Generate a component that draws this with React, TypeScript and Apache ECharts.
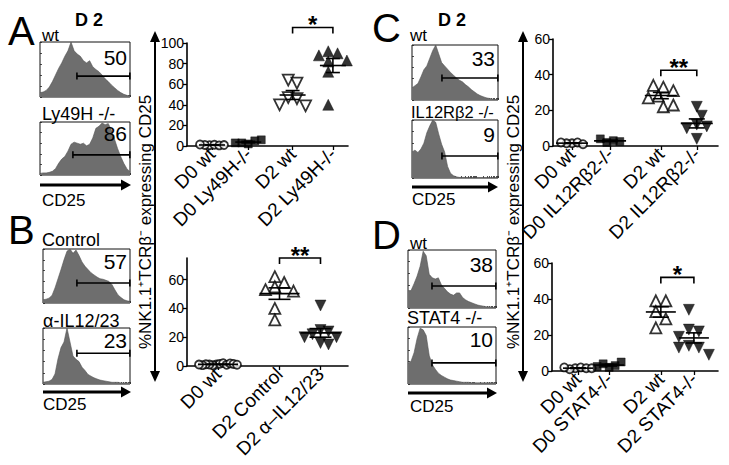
import React, { useEffect, useRef } from 'react';
import * as echarts from 'echarts';

const FONT = '"Liberation Sans", Arial, Helvetica, sans-serif';

// ---------- Scatter data ----------
const A_CATEGORIES = ['D0 wt', 'D0 Ly49H-/-', 'D2 wt', 'D2 Ly49H-/-'];
const A_D0_WT = [0.8, 1.2, 1.0, 0.6, 1.4, 0.9];
const A_D0_KO = [2, 5, 3, 6, 3];
const A_D2_WT = [64, 61, 47, 46, 40, 39];
const A_D2_KO = [92, 90, 88, 83, 82, 72, 40];
const A_TICKS = [0, 20, 40, 60, 80, 100];
const A_SIG = '*';

const B_CATEGORIES = ['D0 wt', 'D2 Control', 'D2 α\u2013IL12/23'];
const B_D0_WT = [1, 1.5, 0.5, 2, 1, 0.8, 1.2, 1.8, 0.6, 1.4, 1, 0.9];
const B_D2_CTRL = [62, 58, 55, 53, 52, 40, 32];
const B_D2_AB = [42, 25, 24, 22, 20, 20, 16, 15];
const B_TICKS = [0, 20, 40, 60];
const B_SIG = '**';

const C_CATEGORIES = ['D0 wt', 'D0 IL12Rβ2-/-', 'D2 wt', 'D2 IL12Rβ2-/-'];
const C_D0_WT = [1.5, 2, 1.5, 1, 2];
const C_D0_KO = [2, 3, 4, 2.5];
const C_D2_WT = [33, 31, 34, 28, 27, 22, 23];
const C_D2_KO = [22, 17, 12, 11, 10, 4];
const C_TICKS = [0, 20, 40, 60];
const C_SIG = '**';

const D_CATEGORIES = ['D0 wt', 'D0 STAT4-/-', 'D2 wt', 'D2 STAT4-/-'];
const D_D0_WT = [1.5, 2, 1, 1.5, 2, 1.5];
const D_D0_KO = [2, 3, 4, 5, 2.5];
const D_D2_WT = [39, 39, 33, 29, 24];
const D_D2_KO = [34, 23, 22, 19, 14, 13, 13, 9];
const D_TICKS = [0, 20, 40, 60];
const D_SIG = '*';

// ---------- Histogram data (relative counts per CD25 bin) ----------
const HIST_A_WT = [8, 9, 12, 18, 28, 40, 52, 62, 74, 84, 100, 84, 78, 74, 66, 62, 66, 55, 50, 46, 40, 33, 28, 22, 17, 12, 8, 5, 3, 2];
const HIST_A_KO = [3, 4, 4, 5, 7, 12, 22, 30, 35, 45, 58, 62, 60, 58, 60, 55, 58, 70, 88, 92, 98, 95, 97, 85, 68, 50, 35, 22, 12, 6];
const HIST_B_CTRL = [6, 7, 9, 14, 28, 45, 62, 80, 96, 100, 92, 98, 88, 76, 68, 62, 56, 52, 48, 45, 44, 42, 40, 34, 24, 15, 10, 6, 4, 3];
const HIST_B_AB = [3, 4, 5, 8, 18, 45, 65, 75, 100, 75, 50, 44, 40, 30, 24, 17, 14, 11, 9, 7, 6, 5, 4, 3, 3, 3, 2, 2, 2, 2];
const HIST_C_WT = [22, 26, 30, 42, 55, 62, 76, 90, 100, 84, 68, 62, 56, 50, 45, 40, 36, 33, 28, 24, 19, 15, 11, 8, 6, 4, 3, 2, 1, 1];
const HIST_C_KO = [45, 48, 44, 50, 60, 78, 90, 100, 96, 76, 58, 45, 20, 8, 4, 2, 1, 1, 1, 0.5, 0.5, 0.5, 0.5, 0.5, 0.5, 0.5, 0.5, 0.5, 0.5, 0.5];
const HIST_D_WT = [30, 30, 42, 55, 72, 98, 90, 58, 52, 50, 52, 40, 34, 28, 24, 22, 26, 26, 18, 14, 11, 9, 7, 5, 4, 3, 2, 2, 1, 1];
const HIST_D_KO = [36, 40, 55, 80, 98, 95, 85, 50, 34, 26, 19, 15, 12, 9, 7, 6, 5, 4, 3, 3, 3, 2, 2, 2, 2, 2, 2, 2, 2, 2];

// gate [start bin, level], percent inside gate
const GATE_A_WT = [11.9, 38];
const GATE_A_KO = [10.6, 38];
const GATE_B_CTRL = [11.3, 37];
const GATE_B_AB = [11.3, 55];
const GATE_C_WT = [10.1, 40];
const GATE_C_KO = [10.1, 38];
const GATE_D_WT = [7.9, 38];
const GATE_D_KO = [7.9, 37];
const PCT = ['50', '86', '57', '23', '33', '9', '38', '10'];

// ---------- helpers ----------
function swarm(values, pxPerUnit, d, cap) {
  const placed = [];
  const out = [];
  for (const v of values) {
    const y = v * pxPerUnit;
    let chosen = 0;
    for (let k = 0; k < 80; k++) {
      const cand = k === 0 ? 0 : (k % 2 ? 1 : -1) * Math.ceil(k / 2) * d * 0.5;
      if (placed.every((p) => Math.hypot(p.x - cand, p.y - y) >= d)) {
        chosen = cand;
        break;
      }
    }
    placed.push({ x: chosen, y });
    out.push(chosen);
  }
  const mid = (Math.max(...out) + Math.min(...out)) / 2;
  let res = out.map((x) => x - mid);
  const mx = Math.max(...res.map(Math.abs));
  if (mx > cap) res = res.map((x) => (x * cap) / mx);
  return res;
}
function mean(a) {
  return a.reduce((s, v) => s + v, 0) / a.length;
}
function sem(a) {
  const m = mean(a);
  const sd = Math.sqrt(a.reduce((s, v) => s + (v - m) * (v - m), 0) / (a.length - 1));
  return sd / Math.sqrt(a.length);
}

const OPEN_CIRCLE = { symbol: 'circle', size: 8, filled: false, rot: 0, d: 5.5 };
const SQUARE = { symbol: 'rect', size: 8, filled: true, rot: 0, d: 6.5 };
const UP_OPEN = { symbol: 'triangle', size: 11, filled: false, rot: 0, d: 10 };
const UP_FILLED = { symbol: 'triangle', size: 11, filled: true, rot: 0, d: 10 };
const DOWN_OPEN = { symbol: 'triangle', size: 11, filled: false, rot: 180, d: 10 };
const DOWN_FILLED = { symbol: 'triangle', size: 11, filled: true, rot: 180, d: 10 };

const SCATTER_PANELS = [
  {
    layout: { left: 187, top: 43, width: 161, height: 103, px0: 212, unit: 40.3, slots: [0, 0.9, 2.0, 3.0], meanHalf: 13, semHalf: 7 },
    cats: A_CATEGORIES, ticks: A_TICKS, yMax: 100,
    groups: [[A_D0_WT, OPEN_CIRCLE, 12], [A_D0_KO, SQUARE, 14], [A_D2_WT, DOWN_OPEN, 13], [A_D2_KO, UP_FILLED, 14]],
    bracket: [2, 3, 115], sig: A_SIG,
  },
  {
    layout: { left: 187, top: 258, width: 161, height: 108, px0: 218, unit: 41, slots: [0, 1.5, 2.5], meanHalf: 20, semHalf: 11 },
    cats: B_CATEGORIES, ticks: B_TICKS, yMax: 75,
    groups: [[B_D0_WT, OPEN_CIRCLE, 19], [B_D2_CTRL, UP_OPEN, 14], [B_D2_AB, DOWN_FILLED, 16]],
    bracket: [1, 2, 75], sig: B_SIG,
  },
  {
    layout: { left: 553, top: 39, width: 165, height: 107, px0: 572, unit: 42.3, slots: [0, 0.9, 2.1, 2.95], meanHalf: 16, semHalf: 8 },
    cats: C_CATEGORIES, ticks: C_TICKS, yMax: 60,
    groups: [[C_D0_WT, OPEN_CIRCLE, 16], [C_D0_KO, SQUARE, 11], [C_D2_WT, UP_OPEN, 14], [C_D2_KO, DOWN_FILLED, 14]],
    bracket: [2, 3, 42.5], sig: C_SIG,
  },
  {
    layout: { left: 552, top: 263, width: 166, height: 108, px0: 578, unit: 38, slots: [0, 0.82, 2.18, 3.05], meanHalf: 15, semHalf: 8 },
    cats: D_CATEGORIES, ticks: D_TICKS, yMax: 60,
    groups: [[D_D0_WT, OPEN_CIRCLE, 15], [D_D0_KO, SQUARE, 12], [D_D2_WT, UP_OPEN, 12], [D_D2_KO, DOWN_FILLED, 16]],
    bracket: [2, 3, 52], sig: D_SIG,
  },
];

const HIST_PANELS = [
  { box: { left: 40, top: 42, width: 90, height: 55 }, data: HIST_A_WT, gate: GATE_A_WT, pct: PCT[0], pctY: 57 },
  { box: { left: 40, top: 122, width: 90, height: 53 }, data: HIST_A_KO, gate: GATE_A_KO, pct: PCT[1], pctY: 133 },
  { box: { left: 43, top: 249, width: 87, height: 54 }, data: HIST_B_CTRL, gate: GATE_B_CTRL, pct: PCT[2], pctY: 261 },
  { box: { left: 43, top: 328, width: 87, height: 56 }, data: HIST_B_AB, gate: GATE_B_AB, pct: PCT[3], pctY: 340 },
  { box: { left: 412, top: 45, width: 86, height: 55 }, data: HIST_C_WT, gate: GATE_C_WT, pct: PCT[4], pctY: 58 },
  { box: { left: 412, top: 120, width: 86, height: 58 }, data: HIST_C_KO, gate: GATE_C_KO, pct: PCT[5], pctY: 134 },
  { box: { left: 408, top: 250, width: 88, height: 58 }, data: HIST_D_WT, gate: GATE_D_WT, pct: PCT[6], pctY: 264 },
  { box: { left: 408, top: 327, width: 88, height: 57 }, data: HIST_D_KO, gate: GATE_D_KO, pct: PCT[7], pctY: 339 },
];

// log-style minor tick positions along the CD25 axis (4 decades over the bin range)
function logTicks(maxBin) {
  const t = [];
  for (let d = 0; d < 4; d++) for (let m = 1; m <= 9; m++) t.push(((d + Math.log10(m)) * maxBin) / 4);
  t.push(maxBin);
  return t;
}

function txt(x, y, text, size, o: any = {}) {
  return {
    type: 'text', x, y, rotation: o.rot || 0, silent: true, z: 10,
    style: {
      text, fill: '#000',
      font: `${o.bold ? 'bold ' : ''}${size}px ${FONT}`,
      textAlign: o.align || 'left', textVerticalAlign: o.va || 'middle',
    },
  };
}
function hArrow(x1, x2, y) {
  return [
    { type: 'line', silent: true, shape: { x1, y1: y, x2: x2 - 5, y2: y }, style: { stroke: '#000', lineWidth: 3 } },
    { type: 'polygon', silent: true, shape: { points: [[x2, y], [x2 - 10, y - 5.5], [x2 - 10, y + 5.5]] }, style: { fill: '#000' } },
  ];
}
function vArrow(x, y1, y2) {
  return [
    { type: 'line', silent: true, shape: { x1: x, y1: y1 + 6, x2: x, y2: y2 - 6 }, style: { stroke: '#000', lineWidth: 2 } },
    { type: 'polygon', silent: true, shape: { points: [[x, y1], [x - 5, y1 + 11], [x + 5, y1 + 11]] }, style: { fill: '#000' } },
    { type: 'polygon', silent: true, shape: { points: [[x, y2], [x - 5, y2 - 11], [x + 5, y2 - 11]] }, style: { fill: '#000' } },
  ];
}

function buildOption() {
  const grid = [];
  const xAxis = [];
  const yAxis = [];
  const series = [];

  SCATTER_PANELS.forEach((p, gi) => {
    const L = p.layout;
    const xMin = -(L.px0 - L.left) / L.unit;
    const xMax = (L.left + L.width - L.px0) / L.unit;
    grid.push({ left: L.left, top: L.top, width: L.width, height: L.height, containLabel: false });
    const axisLine = { show: true, onZero: false, lineStyle: { color: '#000', width: 1.6 } };
    xAxis.push({
      type: 'value', gridIndex: gi, min: xMin, max: xMax,
      axisLine,
      axisTick: { show: true, length: 4, customValues: L.slots, lineStyle: { color: '#000', width: 1.3 } },
      axisLabel: {
        customValues: L.slots, rotate: 45, margin: 5, color: '#000', fontSize: 19, fontFamily: FONT,
        formatter: (v) => {
          let best = 0;
          L.slots.forEach((s, i) => { if (Math.abs(s - v) < Math.abs(L.slots[best] - v)) best = i; });
          return p.cats[best];
        },
      },
      splitLine: { show: false },
    });
    yAxis.push({
      type: 'value', gridIndex: gi, min: 0, max: p.yMax,
      axisLine,
      axisTick: { show: true, length: 4, customValues: p.ticks, lineStyle: { color: '#000', width: 1.3 } },
      axisLabel: { customValues: p.ticks, margin: 3, color: '#000', fontSize: 14, fontFamily: FONT },
      splitLine: { show: false },
    });
    const pxPerUnit = L.height / p.yMax;
    const stats = [];
    p.groups.forEach(([vals, sty, cap], k) => {
      const offs = swarm(vals, pxPerUnit, sty.d, cap);
      series.push({
        type: 'scatter', xAxisIndex: gi, yAxisIndex: gi, silent: true, z: 3,
        symbol: sty.symbol, symbolSize: sty.size, symbolRotate: sty.rot,
        itemStyle: sty.filled
          ? { color: '#000', borderColor: '#000', borderWidth: 0.5 }
          : { color: '#fff', borderColor: '#000', borderWidth: 1.8 },
        data: vals.map((v, i) => [L.slots[k] + offs[i] / L.unit, v]),
      });
      stats.push([L.slots[k], mean(vals), sem(vals)]);
    });
    series.push({
      type: 'custom', xAxisIndex: gi, yAxisIndex: gi, silent: true, z: 5,
      encode: { x: 0, y: 1 },
      data: stats,
      renderItem: (params, api) => {
        const x = api.value(0), m = api.value(1), s = api.value(2);
        const c = api.coord([x, m]);
        const hi = api.coord([x, m + s]);
        const lo = api.coord([x, m - s]);
        const st = { stroke: '#000', lineWidth: 1.6 };
        return {
          type: 'group',
          children: [
            { type: 'line', shape: { x1: c[0] - L.meanHalf, y1: c[1], x2: c[0] + L.meanHalf, y2: c[1] }, style: st },
            { type: 'line', shape: { x1: c[0] - L.semHalf, y1: hi[1], x2: c[0] + L.semHalf, y2: hi[1] }, style: st },
            { type: 'line', shape: { x1: c[0] - L.semHalf, y1: lo[1], x2: c[0] + L.semHalf, y2: lo[1] }, style: st },
            { type: 'line', shape: { x1: c[0], y1: hi[1], x2: c[0], y2: lo[1] }, style: st },
          ],
        };
      },
    });
    const [b1, b2, by] = p.bracket;
    series.push({
      type: 'custom', xAxisIndex: gi, yAxisIndex: gi, silent: true, z: 5,
      encode: { x: 0, y: 2 },
      data: [[L.slots[b1], L.slots[b2], by]],
      renderItem: (params, api) => {
        const a = api.coord([api.value(0), api.value(2)]);
        const b = api.coord([api.value(1), api.value(2)]);
        return {
          type: 'group',
          children: [
            {
              type: 'polyline',
              shape: { points: [[a[0], a[1] + 6], [a[0], a[1]], [b[0], b[1]], [b[0], b[1] + 6]] },
              style: { stroke: '#000', lineWidth: 1.6, fill: 'none' },
            },
            {
              type: 'text',
              style: {
                text: p.sig, x: (a[0] + b[0]) / 2, y: a[1] - 3, fill: '#000',
                font: `bold 24px ${FONT}`, textAlign: 'center', textVerticalAlign: 'middle',
              },
            },
          ],
        };
      },
    });
  });

  HIST_PANELS.forEach((h, j) => {
    const gi = SCATTER_PANELS.length + j;
    const maxBin = h.data.length - 1;
    grid.push({ ...h.box, show: true, borderColor: '#111', borderWidth: 1, backgroundColor: 'transparent' });
    xAxis.push({
      type: 'value', gridIndex: gi, min: 0, max: maxBin,
      axisLine: { show: false }, axisLabel: { show: false }, splitLine: { show: false },
      axisTick: { show: true, inside: true, length: 2, customValues: logTicks(maxBin), lineStyle: { color: '#222', width: 0.8 } },
    });
    yAxis.push({
      type: 'value', gridIndex: gi, min: 0, max: 100,
      axisLine: { show: false }, axisLabel: { show: false }, splitLine: { show: false },
      axisTick: { show: true, inside: true, length: 2, customValues: [0, 20, 40, 60, 80, 100], lineStyle: { color: '#222', width: 0.8 } },
    });
    series.push({
      type: 'line', xAxisIndex: gi, yAxisIndex: gi, silent: true, symbol: 'none', z: 2,
      lineStyle: { color: '#555', width: 0.6 },
      areaStyle: { color: '#6e6e6e', opacity: 1 },
      data: h.data.map((v, i) => [i, v]),
    });
    series.push({
      type: 'line', xAxisIndex: gi, yAxisIndex: gi, silent: true, z: 4,
      symbol: 'rect', symbolSize: [1.6, 7], itemStyle: { color: '#000' },
      lineStyle: { color: '#000', width: 1.6 },
      data: [[h.gate[0], h.gate[1]], [maxBin - 0.05, h.gate[1]]],
    });
  });

  const g = [];
  // panel letters
  g.push(txt(8, 31, 'A', 40));
  g.push(txt(8, 230, 'B', 40));
  g.push(txt(372, 28, 'C', 40));
  g.push(txt(372, 235, 'D', 40));
  g.push(txt(89, 20, 'D 2', 18, { bold: true, align: 'center' }));
  g.push(txt(452, 20, 'D 2', 18, { bold: true, align: 'center' }));
  // histogram labels
  g.push(txt(42, 35, 'wt', 17));
  g.push(txt(42, 114, 'Ly49H -/-', 18));
  g.push(txt(42, 200, 'CD25', 17));
  g.push(txt(42, 240, 'Control', 18));
  g.push(txt(43, 321, 'α-IL12/23', 18));
  g.push(txt(43, 404, 'CD25', 17));
  g.push(txt(410, 35, 'wt', 17));
  g.push(txt(411, 112, 'IL12Rβ2 -/-', 16.5));
  g.push(txt(412, 199, 'CD25', 17));
  g.push(txt(410, 243, 'wt', 17));
  g.push(txt(407, 318, 'STAT4 -/-', 18));
  g.push(txt(410, 406, 'CD25', 17));
  HIST_PANELS.forEach((h) => {
    g.push(txt(h.box.left + h.box.width - 3, h.pctY, h.pct, 21, { align: 'right' }));
  });
  g.push(...hArrow(40, 131, 185));
  g.push(...hArrow(43, 131, 392));
  g.push(...hArrow(412, 498, 187));
  g.push(...hArrow(408, 497, 393));
  // y-axis titles
  g.push(...vArrow(155, 31, 382));
  g.push(...vArrow(523, 31, 382));
  const yTitle = '%NK1.1\u207ATCRβ\u207B expressing CD25';
  g.push(txt(145, 222, yTitle, 17, { rot: Math.PI / 2, align: 'center' }));
  g.push(txt(513, 222, yTitle, 17, { rot: Math.PI / 2, align: 'center' }));

  return {
    animation: false,
    backgroundColor: '#ffffff',
    grid, xAxis, yAxis, series,
    graphic: g,
  };
}

export default function App() {
  const ref = useRef(null);
  useEffect(() => {
    const chart = echarts.init(ref.current, null, { renderer: 'svg' });
    chart.setOption(buildOption());
    return () => chart.dispose();
  }, []);
  return <div ref={ref} style={{ position: 'fixed', left: 0, top: 0, width: 729, height: 465, background: '#fff' }} />;
}
